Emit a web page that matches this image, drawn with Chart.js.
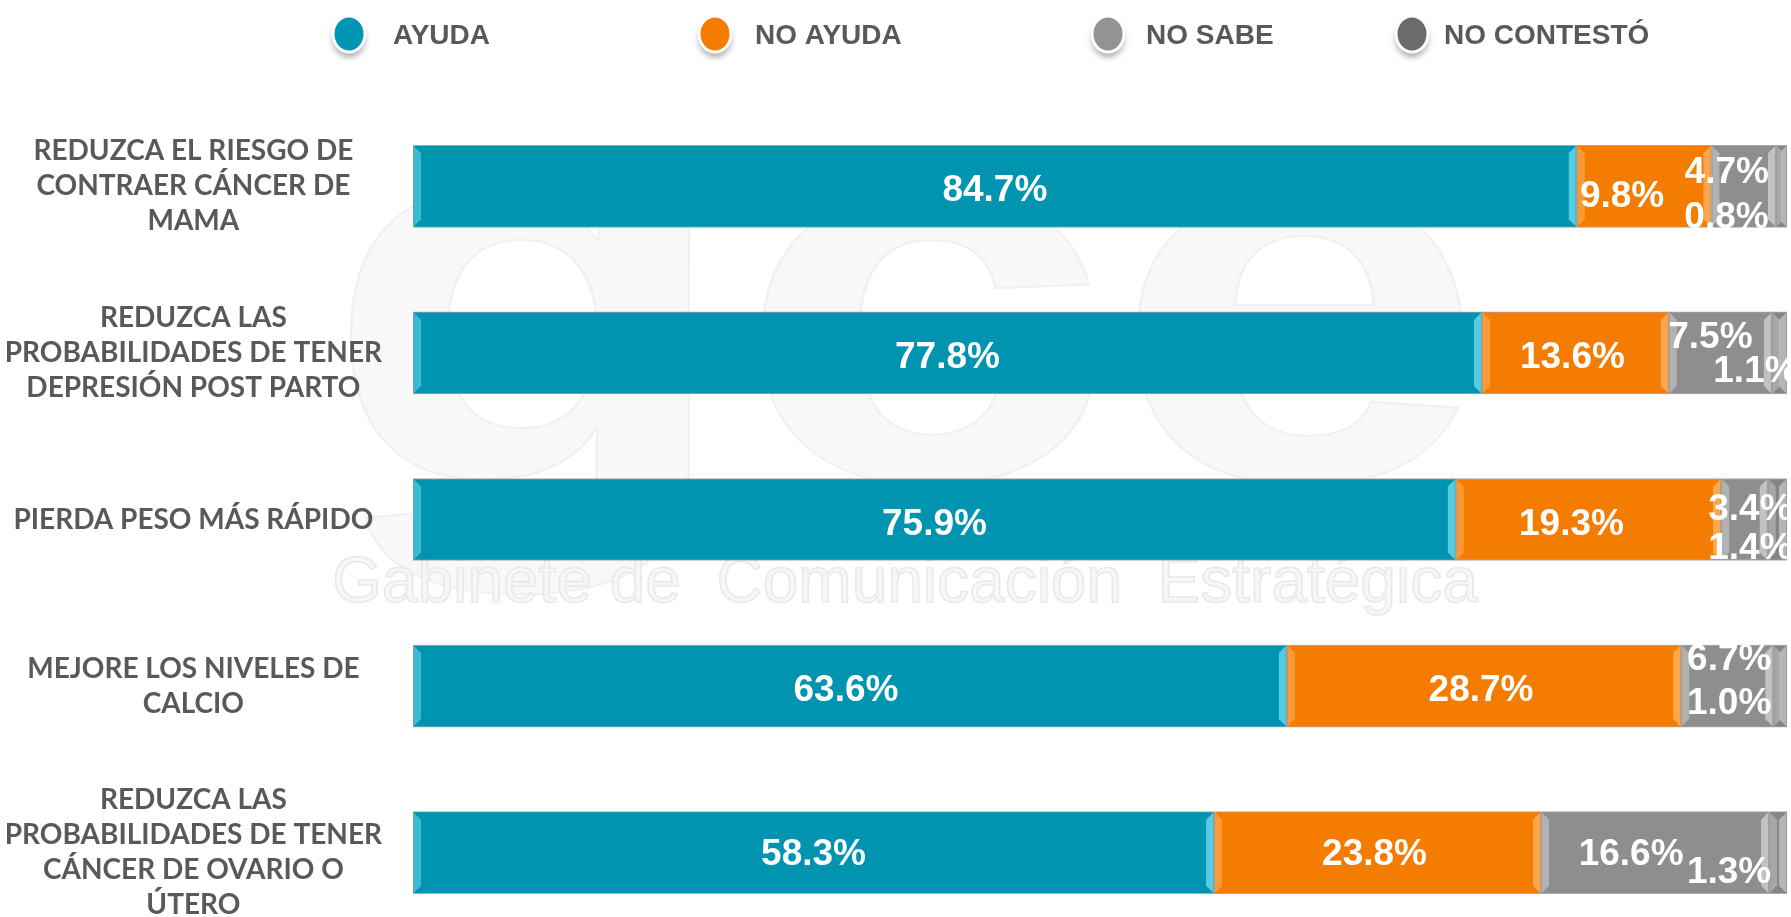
<!DOCTYPE html>
<html>
<head>
<meta charset="utf-8">
<script src="https://cdn.jsdelivr.net/npm/chart.js@4.4.1/dist/chart.umd.min.js"></script>
<style>
  html, body { margin: 0; padding: 0; background: #ffffff; overflow: hidden; }
  #wrap { width: 1791px; height: 917px; overflow: hidden; position: relative; }
  canvas { display: block; }
</style>
</head>
<body>
<div id="wrap"><canvas id="c" width="1791" height="940"></canvas></div>
<script>
// ---------- DATA ----------
const CATEGORIES = [
  ["REDUZCA EL RIESGO DE", "CONTRAER CÁNCER DE", "MAMA"],
  ["REDUZCA LAS", "PROBABILIDADES DE TENER", "DEPRESIÓN POST PARTO"],
  ["PIERDA PESO MÁS RÁPIDO"],
  ["MEJORE LOS NIVELES DE", "CALCIO"],
  ["REDUZCA LAS", "PROBABILIDADES DE TENER", "CÁNCER DE OVARIO O", "ÚTERO"]
];
const SERIES_NAMES = ["AYUDA", "NO AYUDA", "NO SABE", "NO CONTESTÓ"];
const AYUDA       = [84.7, 77.8, 75.9, 63.6, 58.3];
const NO_AYUDA    = [9.8, 13.6, 19.3, 28.7, 23.8];
const NO_SABE     = [4.7, 7.5, 3.4, 6.7, 16.6];
const NO_CONTESTO = [0.8, 1.1, 1.4, 1.0, 1.3];

// ---------- STYLE / LAYOUT (kept apart from data) ----------
const COLORS  = ["#0094B0", "#F47C00", "#8E8E8E", "#858585"];
const LEGEND_DOT = ["#0095B2", "#F57C00", "#939393", "#6B6B6B"];
const BEVEL   = ["rgba(120,225,245,0.9)", "rgba(255,185,110,0.9)", "rgba(215,215,215,0.9)", "rgba(200,200,200,0.9)"];
const LEGEND_DOT_X  = [349, 715, 1108, 1412];
const LEGEND_TEXT_X = [393, 755, 1146, 1444];
// per-label nudges [dx, dy] (rows x series)
const LABEL_NUDGE_AYUDA       = [[0, 4], [0, 5], [0, 5], [-4, 5], [0, 2]];
const LABEL_NUDGE_NO_AYUDA    = [[-22, 10], [-3, 5], [-17, 5], [-3, 5], [-3, 2]];
const LABEL_NUDGE_NO_SABE     = [[-17, -14], [-10, -15], [6, -10], [2, -26], [-24, 2]];
const LABEL_NUDGE_NO_CONTESTO = [[-55, 31], [-24, 19], [-27, 29], [-51, 18], [-49, 20]];
const NUDGES = [LABEL_NUDGE_AYUDA, LABEL_NUDGE_NO_AYUDA, LABEL_NUDGE_NO_SABE, LABEL_NUDGE_NO_CONTESTO];
const VALUES = [AYUDA, NO_AYUDA, NO_SABE, NO_CONTESTO];

const LABEL_FONT = "Lato, 'Liberation Sans', sans-serif";
const TEXT_FONT = "'Liberation Sans', Arial, sans-serif";

const watermark = {
  id: 'watermark',
  beforeDraw(chart) {
    const ctx = chart.ctx;
    ctx.save();
    ctx.fillStyle = '#f8f8f8';
    ctx.strokeStyle = '#f0f0f0';
    ctx.lineWidth = 2;
    ctx.textBaseline = 'alphabetic';
    ctx.textAlign = 'center';
    ctx.font = "bold 540px " + TEXT_FONT;
    ctx.save();
    ctx.translate(905, 480);
    ctx.scale(1.25, 1);
    ctx.fillText('gce', 0, 0);
    ctx.strokeText('gce', 0, 0);
    ctx.restore();
    ctx.font = "64px " + TEXT_FONT;
    ctx.save();
    ctx.translate(905, 602);
    ctx.strokeStyle = '#e8e8e8';
    ctx.lineWidth = 1.5;
    ctx.fillStyle = '#f7f7f7';
    ctx.fillText('Gabinete de  Comunicación  Estratégica', 0, 0);
    ctx.strokeText('Gabinete de  Comunicación  Estratégica', 0, 0);
    ctx.restore();
    ctx.restore();
  }
};

const bevelAndLabels = {
  id: 'bevelAndLabels',
  afterDatasetsDraw(chart) {
    const ctx = chart.ctx;
    ctx.save();
    chart.data.datasets.forEach((ds, di) => {
      const meta = chart.getDatasetMeta(di);
      meta.data.forEach((bar) => {
        const left = Math.min(bar.base, bar.x);
        const right = Math.max(bar.base, bar.x);
        const top = bar.y - bar.height / 2;
        const bottom = bar.y + bar.height / 2;
        const w = Math.min(7, (right - left) / 2 - 0.5);
        if (w <= 0) return;
        ctx.fillStyle = BEVEL[di];
        ctx.beginPath();
        ctx.moveTo(left + 1, top + 1);
        ctx.lineTo(left + 1 + w, top + 1 + w);
        ctx.lineTo(left + 1 + w, bottom - 1 - w);
        ctx.lineTo(left + 1, bottom - 1);
        ctx.closePath();
        ctx.globalAlpha = 0.55;
        ctx.fill();
        ctx.beginPath();
        ctx.moveTo(right - 1, top + 1);
        ctx.lineTo(right - 1 - w, top + 1 + w);
        ctx.lineTo(right - 1 - w, bottom - 1 - w);
        ctx.lineTo(right - 1, bottom - 1);
        ctx.closePath();
        ctx.globalAlpha = 0.8;
        ctx.fill();
        ctx.globalAlpha = 1;
      });
    });
    ctx.fillStyle = '#ffffff';
    ctx.textAlign = 'center';
    ctx.textBaseline = 'middle';
    ctx.font = "bold 37px " + TEXT_FONT;
    chart.data.datasets.forEach((ds, di) => {
      const meta = chart.getDatasetMeta(di);
      meta.data.forEach((bar, i) => {
        const cx = (bar.base + bar.x) / 2 + NUDGES[di][i][0];
        const cy = bar.y + NUDGES[di][i][1];
        ctx.fillText(VALUES[di][i].toFixed(1) + '%', cx, cy);
      });
    });
    ctx.restore();
  },
  afterDraw(chart) {
    const ctx = chart.ctx;
    ctx.save();
    SERIES_NAMES.forEach((name, i) => {
      ctx.save();
      ctx.shadowColor = 'rgba(0,0,0,0.35)';
      ctx.shadowBlur = 6;
      ctx.shadowOffsetY = 5;
      ctx.beginPath();
      ctx.ellipse(LEGEND_DOT_X[i], 34, 16, 18, 0, 0, Math.PI * 2);
      ctx.fillStyle = LEGEND_DOT[i];
      ctx.fill();
      ctx.restore();
      ctx.beginPath();
      ctx.ellipse(LEGEND_DOT_X[i], 34, 16, 18, 0, 0, Math.PI * 2);
      ctx.strokeStyle = '#ffffff';
      ctx.lineWidth = 3;
      ctx.stroke();
      ctx.fillStyle = '#595959';
      ctx.font = "bold 28px " + TEXT_FONT;
      ctx.textAlign = 'left';
      ctx.textBaseline = 'middle';
      ctx.fillText(name, LEGEND_TEXT_X[i], 36);
    });
    ctx.restore();
  }
};

function build() {
  new Chart(document.getElementById('c'), {
    type: 'bar',
    data: {
      labels: CATEGORIES,
      datasets: VALUES.map((vals, i) => ({
        label: SERIES_NAMES[i],
        data: vals,
        backgroundColor: COLORS[i],
        borderColor: 'rgba(160,160,160,0.9)',
        borderWidth: 1,
        borderSkipped: false,
        barThickness: 82
      }))
    },
    options: {
      indexAxis: 'y',
      responsive: false,
      animation: false,
      layout: { padding: { top: 103, right: 4, bottom: 4, left: 0 } },
      plugins: { legend: { display: false }, tooltip: { enabled: false } },
      scales: {
        x: { stacked: true, min: 0, max: 100, display: false },
        y: {
          stacked: true,
          grid: { display: false, drawTicks: false },
          border: { display: false },
          ticks: {
            color: '#595959',
            crossAlign: 'center',
            padding: 31,
            autoSkip: false,
            font: { family: LABEL_FONT, weight: 'bold', size: 28, lineHeight: 1.25 }
          },
          afterFit(scale) {
            scale.width = 413;
            scale.paddingTop = 0;
            scale.paddingBottom = 0;
          }
        }
      }
    },
    plugins: [watermark, bevelAndLabels]
  });
}
if (document.fonts && document.fonts.load) {
  Promise.all([document.fonts.load("bold 28px Lato"), document.fonts.load("bold 37px 'Liberation Sans'")])
    .then(build, build);
} else {
  build();
}
</script>
</body>
</html>
